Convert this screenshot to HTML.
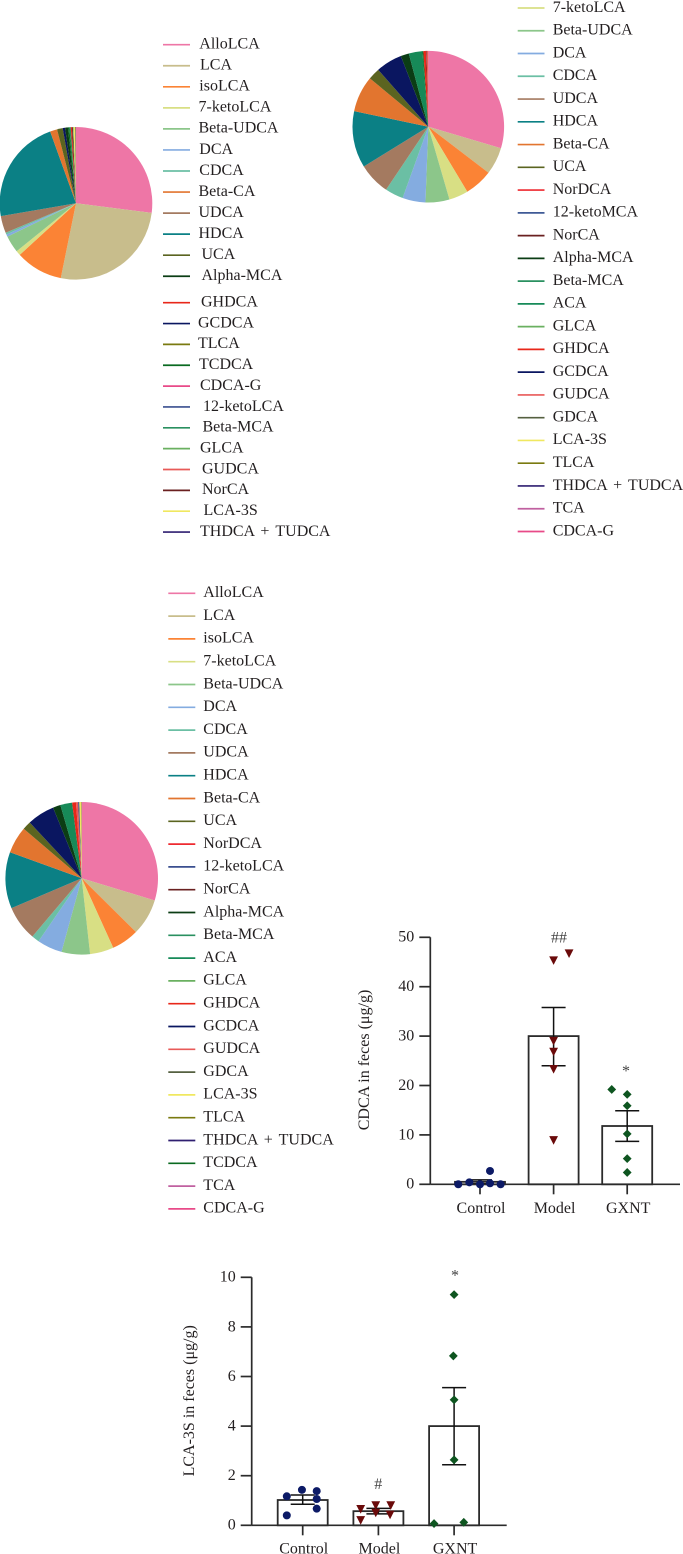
<!DOCTYPE html>
<html lang="en">
<head>
<meta charset="utf-8">
<title>Bile acid composition charts</title>
<style>
html,body{margin:0;padding:0;background:#fff;width:683px;height:1554px;overflow:hidden}
svg{display:block}
text{font-family:"Liberation Serif",serif;fill:#231f20;letter-spacing:0}
.lg{font-size:16px;word-spacing:2.2px}
.tk{font-size:16px}
</style>
</head>
<body>
<svg id="figure" xmlns="http://www.w3.org/2000/svg" width="683" height="1554" viewBox="0 0 683 1554"></svg>
<script>
// ---------- data: pie slices (percent, clockwise from top) ----------
const pie1Labels = ["AlloLCA","LCA","isoLCA","7-ketoLCA","Beta-UDCA","DCA","CDCA","UDCA","HDCA","Beta-CA","UCA","GCDCA","Alpha-MCA","TCDCA","Beta-MCA","GHDCA","NorCA","GLCA","LCA-3S","THDCA + TUDCA"];
const pie1Values = [27,26.2,10,1,3.6,0.5,0.4,3.6,22.2,1.5,1.2,0.5,0.6,0.3,0.3,0.25,0.2,0.15,0.4,0.1];
const pie2Labels = ["AlloLCA","LCA","isoLCA","7-ketoLCA","Beta-UDCA","DCA","CDCA","UDCA","HDCA","Beta-CA","UCA","GCDCA","Alpha-MCA","ACA","TCDCA","GHDCA","NorCA","GUDCA"];
const pie2Values = [29.6,5.8,6,4.1,5.1,4.9,3.9,6.8,12.1,7.7,2.5,5.6,1.75,2.9,0.2,0.55,0.15,0.35];
const pie3Labels = ["AlloLCA","LCA","isoLCA","7-ketoLCA","Beta-UDCA","DCA","CDCA","UDCA","HDCA","Beta-CA","UCA","GCDCA","Alpha-MCA","ACA","GHDCA","GUDCA","12-ketoLCA","LCA-3S","TLCA"];
const pie3Values = [29.6,7.7,5.8,5,6,5.3,1.6,7.4,11.9,5.7,1.8,5.8,1.6,2.5,0.8,0.45,0.25,0.4,0.1];

// ---------- data: legends ----------
const legend1Labels = ["AlloLCA","LCA","isoLCA","7-ketoLCA","Beta-UDCA","DCA","CDCA","Beta-CA","UDCA","HDCA","UCA","Alpha-MCA","GHDCA","GCDCA","TLCA","TCDCA","CDCA-G","12-ketoLCA","Beta-MCA","GLCA","GUDCA","NorCA","LCA-3S","THDCA + TUDCA"];
const legend2Labels = ["7-ketoLCA","Beta-UDCA","DCA","CDCA","UDCA","HDCA","Beta-CA","UCA","NorDCA","12-ketoMCA","NorCA","Alpha-MCA","Beta-MCA","ACA","GLCA","GHDCA","GCDCA","GUDCA","GDCA","LCA-3S","TLCA","THDCA + TUDCA","TCA","CDCA-G"];
const legend3Labels = ["AlloLCA","LCA","isoLCA","7-ketoLCA","Beta-UDCA","DCA","CDCA","UDCA","HDCA","Beta-CA","UCA","NorDCA","12-ketoLCA","NorCA","Alpha-MCA","Beta-MCA","ACA","GLCA","GHDCA","GCDCA","GUDCA","GDCA","LCA-3S","TLCA","THDCA + TUDCA","TCDCA","TCA","CDCA-G"];

// ---------- data: bar charts ----------
const groupLabels = ["Control","Model","GXNT"];
const cdcaTicks = [0,10,20,30,40,50];
const cdcaMeans = [0.5,30,11.8];
const cdcaLower = [0.1,24,8.7];
const cdcaUpper = [0.9,35.8,14.9];
const cdcaControl = [0,0.4,0,0.2,2.7,0];
const cdcaControlJitter = [-0.295,-0.145,0,0.136,0.136,0.28];
const cdcaModel = [45.3,46.7,29,26.8,23.3,8.9];
const cdcaModelJitter = [0,0.21,0,0,0,0];
const cdcaGxnt = [19.2,18.2,15.9,10.2,5.2,2.4];
const cdcaGxntJitter = [-0.21,0,0,0,0,0];
const lcaTicks = [0,2,4,6,8,10];
const lcaMeans = [1.02,0.57,4];
const lcaLower = [0.85,0.46,2.44];
const lcaUpper = [1.22,0.68,5.55];
const lcaControl = [1.17,1.43,1.38,1.06,0.67,0.4];
const lcaControlJitter = [-0.21,-0.01,0.185,0.185,0.185,-0.21];
const lcaModel = [0.65,0.8,0.8,0.5,0.42,0.2];
const lcaModelJitter = [-0.234,-0.035,0.163,-0.035,0.154,-0.234];
const lcaGxnt = [9.3,6.83,5.06,2.64,0.07,0.12];
const lcaGxntJitter = [0,-0.01,0,0,-0.265,0.128];

// ---------- styling ----------
const sliceColor = {"AlloLCA":"#ee76a6","LCA":"#c8bd8c","isoLCA":"#fb8335","7-ketoLCA":"#d8df84","Beta-UDCA":"#8cc68a","DCA":"#84ace0","CDCA":"#6bbfa4","Beta-CA":"#e2752f","UDCA":"#a47a60","HDCA":"#0b8085","UCA":"#5b6420","Alpha-MCA":"#0b3d14","GHDCA":"#e8271a","GCDCA":"#0a1660","TLCA":"#7a7a10","TCDCA":"#0a6a20","CDCA-G":"#e84a88","12-ketoLCA":"#3a4f8f","12-ketoMCA":"#3f5a96","Beta-MCA":"#2a9060","GLCA":"#6ab060","GUDCA":"#e85a58","NorCA":"#6a2020","NorDCA":"#ee2a30","LCA-3S":"#f0e860","THDCA + TUDCA":"#2f1f70","ACA":"#178a58","GDCA":"#556040","TCA":"#c060a0"};
const NS = "http://www.w3.org/2000/svg";
const fig = document.getElementById("figure");
function make(tag, attrs, parent, txt){
  const el = document.createElementNS(NS, tag);
  for (const k in attrs) el.setAttribute(k, attrs[k]);
  if (txt !== undefined) el.textContent = txt;
  (parent || fig).appendChild(el);
  return el;
}

// ---------- pies ----------
function drawPie(name, labels, values, cx, cy, r){
  const g = make("g", {});
  
  
  const total = values.reduce((a,b)=>a+b,0);
  let acc = 0;
  values.forEach((v,i)=>{
    const a0 = acc/total*2*Math.PI; acc += v;
    const a1 = acc/total*2*Math.PI;
    const d = "M"+cx+" "+cy+"L"+(cx+r*Math.sin(a0))+" "+(cy-r*Math.cos(a0))+"A"+r+" "+r+" 0 "+((a1-a0)>Math.PI?1:0)+" 1 "+(cx+r*Math.sin(a1))+" "+(cy-r*Math.cos(a1))+"Z";
    const p = make("path", {d:d, fill:sliceColor[labels[i]]}, g);
    
    
  });
}
drawPie("pie-chart-1", pie1Labels, pie1Values, 76, 203.3, 76.3);
drawPie("pie-chart-2", pie2Labels, pie2Values, 428.3, 126.7, 75.8);
drawPie("pie-chart-3", pie3Labels, pie3Values, 81.7, 878.3, 76.3);

// ---------- legends ----------
function drawLegend(name, labels, x0, x1, tx, yOf, dxOf){
  const g = make("g", {});
  
  
  labels.forEach((lab,i)=>{
    const y = yOf(i);
    const e = make("g", {}, g);
    
    
    make("line", {x1:x0,x2:x1,y1:y,y2:y,stroke:sliceColor[lab],"stroke-width":1.7}, e);
    make("text", {x:tx+(dxOf?dxOf(i):0),y:y+3.8,"class":"lg"}, e, lab);
  });
}
const legend1Indent = [0.3,1,0.3,-0.5,-0.5,0.3,0.3,-0.5,-0.5,-0.5,2.5,2.5,2,-1,-1,0,1,4,3.5,1,3,3,4.5,1];
drawLegend("legend-1", legend1Labels, 163, 190, 199,
  i => i < 12 ? 44.7 + 21.05*i : 302.7 + 20.85*(i-12),
  i => legend1Indent[i]);
drawLegend("legend-2", legend2Labels, 517.7, 544.5, 552.7, i => 8 + 22.76*i);
drawLegend("legend-3", legend3Labels, 168.3, 195.3, 203.3, i => 593.3 + 22.8*i);

// ---------- bar charts ----------
function drawBars(o){
  const g = make("g", {});
  
  
  const ink = "#2b2b2b";
  const y = v => o.y0 + (o.y1-o.y0)*v/o.ticks[o.ticks.length-1];
  const x = c => o.x0 + o.step*c;
  const half = 25, cap = 12;

  o.means.forEach((m,i)=>{
    const b = make("rect", {x:x(i)-half,y:y(m),width:half*2,height:o.y0-y(m),fill:"#fff",stroke:ink,"stroke-width":1.8}, g);
    
    
  });

  o.means.forEach((m,i)=>{
    const eb = make("path", {d:"M"+x(i)+" "+y(o.lower[i])+"V"+y(o.upper[i])+"M"+(x(i)-cap)+" "+y(o.upper[i])+"H"+(x(i)+cap)+"M"+(x(i)-cap)+" "+y(o.lower[i])+"H"+(x(i)+cap),fill:"none",stroke:"#111","stroke-width":1.5}, g);
    
    
  });

  const axis = make("path", {d:"M"+o.axisX+" "+y(o.ticks[o.ticks.length-1])+"V"+o.y0+"M"+o.axisX+" "+o.y0+"H"+o.axisEnd,fill:"none",stroke:ink,"stroke-width":1.7}, g);
  
  

  o.ticks.forEach(t=>{
    make("line", {x1:o.axisX-11,x2:o.axisX,y1:y(t),y2:y(t),stroke:ink,"stroke-width":1.7}, g);
    const tl = make("text", {x:o.axisX-16,y:y(t)+4.4,"text-anchor":"end","class":"tk"}, g, t);
    
    
  });
  groupLabels.forEach((lab,i)=>{
    make("line", {x1:x(i),x2:x(i),y1:o.y0,y2:o.y0+10,stroke:ink,"stroke-width":1.7}, g);
    const tl = make("text", {x:x(i)+1,y:o.labelY,"text-anchor":"middle","class":"tk"}, g, lab);
    
    
  });
  const title = make("text", {transform:"translate("+o.titleX+" "+o.titleY+") rotate(-90)","text-anchor":"middle","class":"tk"}, g, o.title);
  
  

  o.control.forEach((v,i)=>{
    const c = make("circle", {cx:x(0+o.controlJ[i]),cy:y(v),r:4,fill:"#0c1a66"}, g);
    
    
  });
  o.model.forEach((v,i)=>{
    const px = x(1+o.modelJ[i]), py = y(v);
    const c = make("path", {d:"M"+(px-4.4)+" "+(py-4.2)+"H"+(px+4.4)+"L"+px+" "+(py+4.4)+"Z",fill:"#6a0a0a"}, g);
    
    
  });
  o.gxnt.forEach((v,i)=>{
    const px = x(2+o.gxntJ[i]), py = y(v);
    const c = make("path", {d:"M"+px+" "+(py-4.4)+"L"+(px+4.4)+" "+py+"L"+px+" "+(py+4.4)+"L"+(px-4.4)+" "+py+"Z",fill:"#0e5520"}, g);
    
    
  });
  o.marks.forEach(m=>{
    const t = make("text", {x:m[1],y:m[2],"text-anchor":"middle","class":"tk",style:"fill:#444"}, g, m[0]);
    
    
  });
}
drawBars({name:"cdca-bar-chart",title:"CDCA in feces (μg/g)",ticks:cdcaTicks,means:cdcaMeans,lower:cdcaLower,upper:cdcaUpper,
  control:cdcaControl,controlJ:cdcaControlJitter,model:cdcaModel,modelJ:cdcaModelJitter,gxnt:cdcaGxnt,gxntJ:cdcaGxntJitter,
  x0:480,step:73.6,y0:1184.3,y1:937.3,axisX:430.3,axisEnd:680,labelY:1213,titleX:369,titleY:1060,
  marks:[["##",559,942.7],["*",626,1076]]});
drawBars({name:"lca-3s-bar-chart",title:"LCA-3S in feces (μg/g)",ticks:lcaTicks,means:lcaMeans,lower:lcaLower,upper:lcaUpper,
  control:lcaControl,controlJ:lcaControlJitter,model:lcaModel,modelJ:lcaModelJitter,gxnt:lcaGxnt,gxntJ:lcaGxntJitter,
  x0:302.7,step:75.7,y0:1525.3,y1:1277.3,axisX:251.7,axisEnd:506.7,labelY:1553.5,titleX:194,titleY:1400.8,
  marks:[["#",378.3,1489],["*",455,1280.5]]});
</script>
</body>
</html>
